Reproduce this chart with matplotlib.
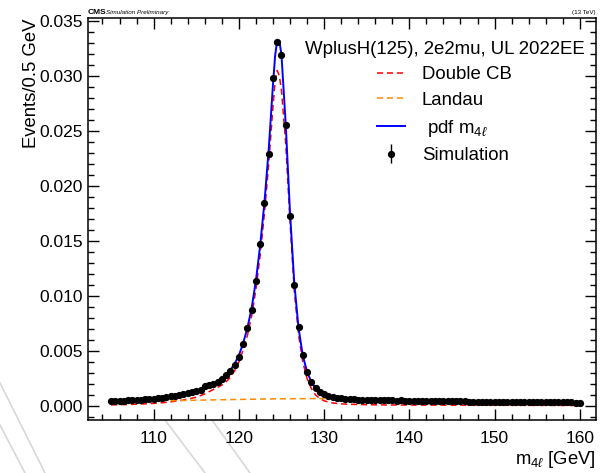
import numpy as np
import matplotlib
matplotlib.use("Agg")
import matplotlib.pyplot as plt
from matplotlib.lines import Line2D
from matplotlib.ticker import MultipleLocator

plt.rcParams['font.family'] = ['Liberation Sans', 'DejaVu Sans']
plt.rcParams['mathtext.fontset'] = 'custom'
plt.rcParams['mathtext.rm'] = 'Liberation Sans'
plt.rcParams['mathtext.it'] = 'Liberation Sans:italic'

# simulated m4l histogram, 0.5 GeV bins from 105 to 160
sim_x = np.arange(105.0, 160.25, 0.5)
sim_y = [
    0.00048, 0.00049, 0.00050, 0.00050, 0.00053, 0.00055, 0.00057, 0.00059, 0.00062, 0.00064,
    0.00068, 0.00072, 0.00077, 0.00081, 0.00088, 0.00093, 0.00099, 0.00106, 0.00115, 0.00125,
    0.00137, 0.00150, 0.00180, 0.00190, 0.00200, 0.00220, 0.00250, 0.00280, 0.00320, 0.00370,
    0.00450, 0.00560, 0.00710, 0.00870, 0.01140, 0.01475, 0.01845, 0.02290, 0.02980, 0.03310,
    0.03190, 0.02550, 0.01730, 0.01100, 0.00720, 0.00460, 0.00310, 0.00220, 0.00160, 0.00125,
    0.00105, 0.00090, 0.00082, 0.00075, 0.00070, 0.00066, 0.00063, 0.00060, 0.00058, 0.00057,
    0.00055, 0.00054, 0.00053, 0.00054, 0.00052, 0.00051, 0.00052, 0.00050, 0.00051, 0.00049,
    0.00048, 0.00049, 0.00047, 0.00047, 0.00046, 0.00046, 0.00045, 0.00045, 0.00044, 0.00044,
    0.00043, 0.00043, 0.00042, 0.00042, 0.00041, 0.00041, 0.00041, 0.00040, 0.00040, 0.00039,
    0.00039, 0.00039, 0.00038, 0.00038, 0.00037, 0.00037, 0.00037, 0.00036, 0.00036, 0.00036,
    0.00035, 0.00035, 0.00035, 0.00034, 0.00034, 0.00034, 0.00033, 0.00033, 0.00033, 0.00032,
    0.00032,
]
sim_err = 0.0001

# fitted curves
fit_x = [105, 106, 107, 108, 109, 110, 111, 112, 113, 114, 115, 116, 117, 117.5,
         118, 118.5, 119, 119.5, 120, 120.5, 121, 121.5, 122, 122.5, 123, 123.5,
         124, 124.25, 124.5, 124.75, 125, 125.5, 126, 126.5, 127, 127.5, 128, 128.5,
         129, 129.5, 130, 130.5, 131, 132, 133, 134, 135, 137, 140, 145, 150, 155, 160]
pdf_y = [0.00048, 0.00050, 0.00055, 0.00058, 0.00063, 0.00069, 0.00078, 0.00089, 0.00100,
         0.00116, 0.00138, 0.00170, 0.00200, 0.00220, 0.00250, 0.00285, 0.00325, 0.00385,
         0.00460, 0.00570, 0.00710, 0.00890, 0.01140, 0.01460, 0.01850, 0.02330, 0.02920,
         0.03180, 0.03330, 0.03320, 0.03190, 0.02560, 0.01760, 0.01120, 0.00710, 0.00460,
         0.00310, 0.00220, 0.00160, 0.00125, 0.00105, 0.00092, 0.00083, 0.00072, 0.00065,
         0.00060, 0.00057, 0.00053, 0.00049, 0.00043, 0.00039, 0.00036, 0.00033]
dcb_y = [0.00010, 0.00012, 0.00014, 0.00017, 0.00020, 0.00024, 0.00030, 0.00038, 0.00048,
         0.00062, 0.00080, 0.00110, 0.00150, 0.00170, 0.00190, 0.00220, 0.00260, 0.00320,
         0.00400, 0.00510, 0.00640, 0.00820, 0.01060, 0.01370, 0.01750, 0.02200, 0.02720,
         0.02950, 0.03050, 0.03000, 0.02870, 0.02380, 0.01680, 0.01050, 0.00650, 0.00400,
         0.00250, 0.00160, 0.00100, 0.00068, 0.00048, 0.00036, 0.00028, 0.00020, 0.00016,
         0.00014, 0.00012, 0.00010, 0.00009, 0.00008, 0.00007, 0.00006, 0.00005]
landau_x = [105, 110, 115, 120, 125, 130, 135, 140, 145, 150, 155, 160]
landau_y = [0.00035, 0.00045, 0.00053, 0.00060, 0.00066, 0.00068, 0.00062, 0.00054,
            0.00047, 0.00041, 0.00036, 0.00032]

fig = plt.figure(figsize=(6.03, 4.73), dpi=100)
ax = fig.add_axes([88/603, 53/473, 508/603, 402/473])

l_dcb, = ax.plot(fit_x, dcb_y, color='#ff0000', lw=1.1, ls=(0, (4, 2.5)))
l_lan, = ax.plot(landau_x, landau_y, color='#ff8c00', lw=1.1, ls=(0, (4, 2.5)))
l_pdf, = ax.plot(fit_x, pdf_y, color='#0000ff', lw=1.4)
eb = ax.errorbar(sim_x, sim_y, yerr=sim_err, fmt='o', color='black', ms=4.2,
                 elinewidth=1.0, capsize=0)

ax.set_xlim(102.3, 161.9)
ax.set_ylim(-0.00127, 0.03527)
ax.xaxis.set_major_locator(MultipleLocator(10))
ax.xaxis.set_minor_locator(MultipleLocator(2))
ax.yaxis.set_major_locator(MultipleLocator(0.005))
ax.yaxis.set_minor_locator(MultipleLocator(0.001))
ax.tick_params(which='both', direction='in', top=True, right=True, labelsize=12.5)
ax.tick_params(which='major', length=8, width=1)
ax.tick_params(which='minor', length=4, width=1)
ax.tick_params(axis='x', which='major', pad=8)
for s in ax.spines.values():
    s.set_linewidth(1.1)

ax.set_ylabel('Events/0.5 GeV', loc='top', fontsize=13.3, labelpad=0)
ax.set_xlabel('m$_{4\\ell}$ [GeV]', loc='right', fontsize=13.3, labelpad=2)

ax.legend([l_dcb, l_lan, l_pdf, eb], ['Double CB', 'Landau', ' pdf m$_{4\\ell}$', 'Simulation'],
          title='WplusH(125), 2e2mu, UL 2022EE', title_fontsize=13.4, fontsize=13.4,
          frameon=False, loc='upper right', bbox_to_anchor=(1.01, 0.985),
          handlelength=1.5, handletextpad=0.9, labelspacing=0.46)

fig.text(88/603, 1 - 14/473, 'CMS', fontsize=6, fontweight='bold', ha='left', va='baseline')
fig.text(106/603, 1 - 14/473, 'Simulation Preliminary', fontsize=4.5, style='italic',
         ha='left', va='baseline')
fig.text(596/603, 1 - 14/473, '(13 TeV)', fontsize=4.5, ha='right', va='baseline')

# faint background strokes in the lower left
for x0, y0, x1, y1 in [(0, 383, 45, 473), (0, 425, 25, 473), (165, 420, 205, 473),
                       (212, 420, 250, 473)]:
    fig.add_artist(Line2D([x0/603, x1/603], [1 - y0/473, 1 - y1/473], color='#d8d8d8',
                          lw=1.2, zorder=-1))

fig.savefig('out.png', dpi=100)
